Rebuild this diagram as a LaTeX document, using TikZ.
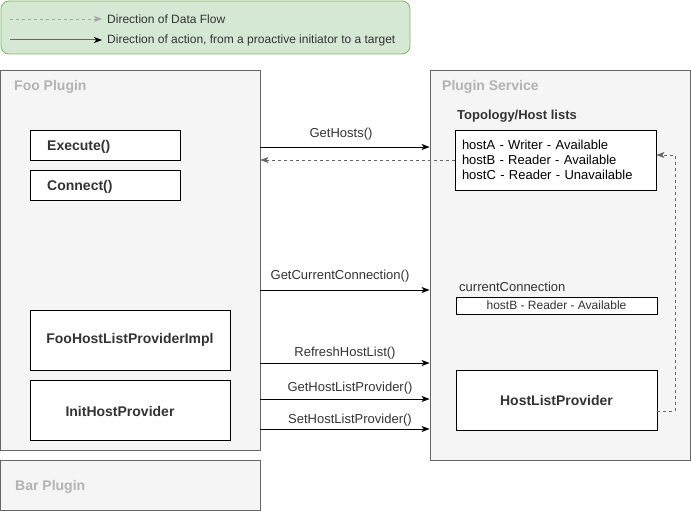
\documentclass[tikz,border=0pt]{standalone}
\usepackage{fontspec}
\setmainfont{Liberation Sans}
\usetikzlibrary{arrows.meta}
\definecolor{legfill}{HTML}{D5E8D4}
\definecolor{legline}{HTML}{82B366}
\definecolor{grpfill}{HTML}{F5F5F5}
\definecolor{grpline}{HTML}{666666}
\definecolor{grptext}{HTML}{B3B3B3}
\definecolor{txt}{HTML}{333333}
\begin{document}
\begin{tikzpicture}[x=1pt,y=-1pt,
  font=\fontsize{13}{15}\selectfont,
  tip/.style={-{Stealth[length=8pt,width=6pt,inset=2pt]}},
  act/.style={tip,line width=1pt,black},
  flow/.style={tip,line width=0.8pt,grpline,dash pattern=on 3pt off 3pt},
  group/.style={draw=grpline,fill=grpfill,line width=0.8pt,inner sep=0pt},
  gtitle/.style={font=\fontsize{14}{16}\selectfont\bfseries,text=grptext,anchor=west,inner sep=0pt},
  box/.style={draw=black,fill=white,line width=0.8pt,inner sep=0pt},
  btext/.style={font=\fontsize{14}{16}\selectfont\bfseries,text=txt},
  lbl/.style={inner sep=0pt,text=txt}]
\useasboundingbox (0,0) rectangle (691,511);

% legend
\node[draw=legline,fill=legfill,line width=0.8pt,rounded corners=8pt,
      minimum width=409,minimum height=53,inner sep=0pt] (legend) at (205.5,27.5) {};
\coordinate (la1) at (10,19);
\coordinate (la2) at (102,19);
\coordinate (lb1) at (10,40);
\coordinate (lb2) at (102,40);
\draw[tip,line width=0.8pt,gray!70,dash pattern=on 3pt off 3pt] (la1) -- (la2);
\draw[-{Stealth[length=8pt,width=6pt,inset=2pt,black]},line width=1pt,grpline] (lb1) -- (lb2);
\node[lbl,font=\fontsize{12}{14}\selectfont,anchor=west] (lgt1) at (107,19) {Direction of Data Flow};
\node[lbl,font=\fontsize{12}{14}\selectfont,anchor=west] (lgt2) at (107,40) {Direction of action, from a proactive initiator to a target};

% groups
\node[group,minimum width=260,minimum height=380] (foo) at (130,260) {};
\node[gtitle] (footitle) at (14,87) {Foo Plugin};
\node[group,minimum width=260,minimum height=50] (bar) at (130,485) {};
\node[gtitle] (bartitle) at (15,487) {Bar Plugin};
\node[group,minimum width=260,minimum height=390] (svc) at (560,265) {};
\node[gtitle] (svctitle) at (442,87) {Plugin Service};

% Foo plugin members
\node[box,minimum width=150,minimum height=30] (exec) at (105,145) {};
\node[btext,inner sep=0pt,anchor=west] (exectext) at (47,147) {Execute()};
\node[box,minimum width=150,minimum height=30] (conn) at (105,185) {};
\node[btext,inner sep=0pt,anchor=west] (conntext) at (47,187) {Connect()};
\node[box,btext,minimum width=200,minimum height=60] (impl) at (130,340) {FooHostListProviderImpl};
\node[box,minimum width=200,minimum height=60] (init) at (130,410) {};
\node[btext,inner sep=0pt] (inittext) at (120,411) {InitHostProvider};

% Plugin service members
\node[lbl,font=\fontsize{13}{15}\selectfont\bfseries,anchor=west] (topo) at (457,116) {Topology/Host lists};
\node[box,minimum width=201,minimum height=60,text width=187pt,inner xsep=7pt,align=left] (hosts) at (555.5,160)
  {hostA - Writer - Available\\hostB - Reader - Available\\hostC - Reader - Unavailable};
\node[lbl,anchor=west] (cctitle) at (459,287) {currentConnection};
\node[box,font=\fontsize{12}{14}\selectfont,text=txt,minimum width=201,minimum height=17] (cc) at (556.5,305.5) {hostB - Reader - Available};
\node[box,btext,minimum width=201,minimum height=60] (hlp) at (556.5,400) {HostListProvider};

% calls from Foo Plugin into Plugin Service
\draw[act] (foo.east |- 0,147) -- (svc.west |- 0,147);
\node[lbl] (lgh) at (341,134) {GetHosts()};
\draw[flow] (hosts.west) -- (foo.east |- hosts.west);
\draw[act] (foo.east |- 0,290) -- (svc.west |- 0,290);
\node[lbl] (lgcc) at (340,276) {GetCurrentConnection()};
\draw[act] (foo.east |- 0,363) -- (svc.west |- 0,363);
\node[lbl] (lrhl) at (345,353) {RefreshHostList()};
\draw[act] (foo.east |- 0,399) -- (svc.west |- 0,399);
\node[lbl] (lghp) at (350,388) {GetHostListProvider()};
\draw[act] (foo.east |- 0,429) -- (svc.west |- 0,429);
\node[lbl] (lshp) at (350,420) {SetHostListProvider()};

% provider refreshes the host list
\coordinate (back) at (675,0);
\draw[flow] ([yshift=-11pt]hlp.east) -| (back |- 0,155) -- ([yshift=5pt]hosts.east);
\end{tikzpicture}
\end{document}
